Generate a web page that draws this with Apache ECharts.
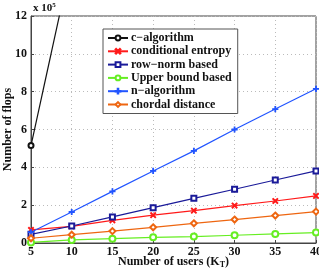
<!DOCTYPE html>
<html><head><meta charset="utf-8">
<script src="https://cdn.jsdelivr.net/npm/echarts@6/dist/echarts.min.js"></script>
<style>html,body{margin:0;padding:0;background:#fff}#c{width:319px;height:269px}</style>
</head><body><div id="c"></div>
<script>
const users = [5, 10, 15, 20, 25, 30, 35, 40];
const cAlgorithm = [5.15, 15.0, null, null, null, null, null, null];
const conditionalEntropy = [0.69, 0.88, 1.2, 1.47, 1.71, 1.98, 2.22, 2.49];
const rowNorm = [0.46, 0.9, 1.38, 1.87, 2.36, 2.84, 3.33, 3.81];
const upperBound = [0.03, 0.16, 0.23, 0.3, 0.34, 0.41, 0.48, 0.55];
const nAlgorithm = [0.57, 1.64, 2.73, 3.81, 4.87, 6.0, 7.08, 8.15];
const chordal = [0.25, 0.44, 0.63, 0.83, 1.04, 1.24, 1.45, 1.66];
const yTicks = [0, 2, 4, 6, 8, 10, 12];

const FONT = 'Liberation Serif';
const crossPath = 'path://M0,1L1,0L5,4L9,0L10,1L6,5L10,9L9,10L5,6L1,10L0,9L4,5Z';
const plusPath = 'path://M4.4,0L5.6,0L5.6,4.4L10,4.4L10,5.6L5.6,5.6L5.6,10L4.4,10L4.4,5.6L0,5.6L0,4.4L4.4,4.4Z';
function mk(name, data, color, symbol, size) {
  return {
    name, type: 'line', data: users.map((u, i) => [u, data[i]]),
    symbol, symbolSize: size, clip: true, connectNulls: false,
    lineStyle: { color, width: 1.2 },
    itemStyle: { color, borderColor: color, borderWidth: 1.2 },
    color
  };
}
const chart = echarts.init(document.getElementById('c'), null, { renderer: 'canvas' });
chart.setOption({
  animation: false,
  textStyle: { fontFamily: FONT },
  grid: { left: 31, right: 3, top: 16, bottom: 26, outerBoundsMode: 'none', containLabel: false,
    show: true, borderColor: '#444', borderWidth: 1, backgroundColor: '#fff' },
  xAxis: {
    type: 'value', min: 5, max: 40, interval: 5,
    name: 'Number of users (K{s|T})', nameLocation: 'middle', nameGap: 12, nameMoveOverlap: false,
    nameTextStyle: { fontFamily: FONT, fontWeight: 'bold', fontSize: 12, color: '#111',
      rich: { s: { fontFamily: FONT, fontWeight: 'bold', fontSize: 8, verticalAlign: 'bottom', padding: [6, 0, 0, 0] } } },
    axisLine: { lineStyle: { color: '#444' } },
    axisTick: { inside: true, length: 3, lineStyle: { color: '#444' } },
    axisLabel: { fontFamily: FONT, fontWeight: 'bold', fontSize: 12, color: '#111', margin: 3 },
    splitLine: { show: true, lineStyle: { type: [1, 3], color: '#bbb' } }
  },
  yAxis: {
    type: 'value', min: 0, max: 12, interval: 2,
    name: 'Number of flops', nameLocation: 'middle', nameGap: 17, nameMoveOverlap: false,
    nameTextStyle: { fontFamily: FONT, fontWeight: 'bold', fontSize: 12, color: '#111' },
    axisLine: { lineStyle: { color: '#444' } },
    axisTick: { inside: true, length: 3, lineStyle: { color: '#444' } },
    axisLabel: { fontFamily: FONT, fontWeight: 'bold', fontSize: 12, color: '#111', margin: 4,
      formatter: v => yTicks.includes(v) ? String(v) : '' },
    splitLine: { show: true, lineStyle: { type: [1, 3], color: '#bbb' } }
  },
  graphic: [{
    type: 'text', left: 33, top: 2,
    style: { text: 'x 10{e|5}', font: 'bold 11px ' + FONT, fill: '#111',
      rich: { e: { fontFamily: FONT, fontSize: 7, fontWeight: 'bold', verticalAlign: 'top', padding: [0, 0, 6, 0] } } }
  }],
  legend: {
    orient: 'vertical', left: 103, top: 29, width: 130,
    backgroundColor: '#fff', borderColor: '#555', borderWidth: 1, borderRadius: 0,
    padding: [3, 6, 3, 4], itemGap: 1.3, itemWidth: 20, itemHeight: 6,
    textStyle: { fontFamily: FONT, fontWeight: 'bold', fontSize: 12, lineHeight: 12, color: '#111', padding: [0, 0, 0, -2] },
    data: ['c\u2212algorithm', 'conditional entropy', 'row\u2212norm based', 'Upper bound based', 'n\u2212algorithm', 'chordal distance']
  },
  series: [
    mk('c\u2212algorithm', cAlgorithm, '#111111', 'emptyCircle', 5),
    mk('conditional entropy', conditionalEntropy, '#ff1a1a', crossPath, 5),
    mk('row\u2212norm based', rowNorm, '#1a1a99', 'emptyRect', 5),
    mk('Upper bound based', upperBound, '#66ee22', 'emptyCircle', 6),
    mk('n\u2212algorithm', nAlgorithm, '#2255ff', plusPath, 5),
    mk('chordal distance', chordal, '#ee6611', 'emptyDiamond', 6)
  ]
});
</script></body></html>
